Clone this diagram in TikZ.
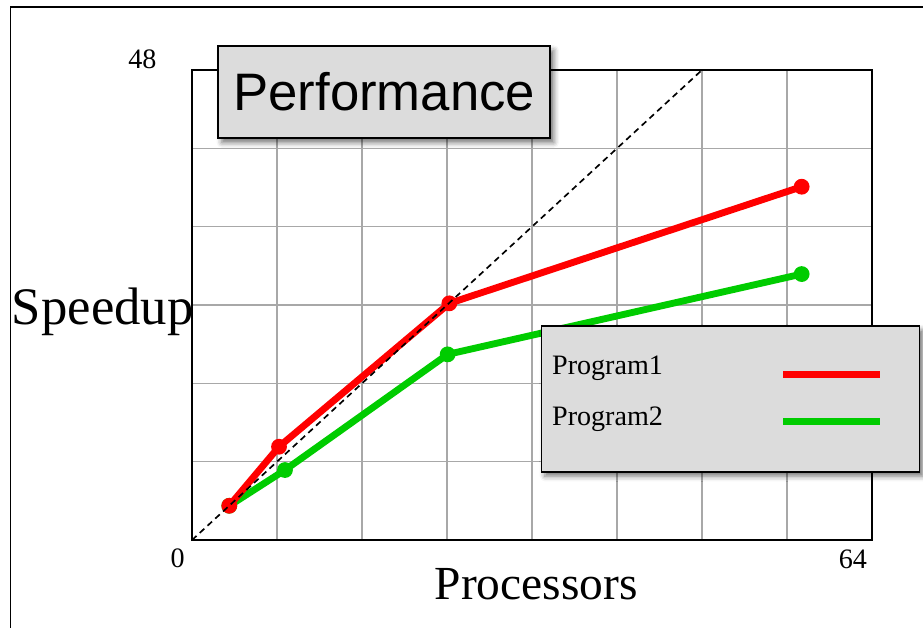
\documentclass[tikz,border=0pt]{standalone}
\usepackage{fontspec}
\setmainfont{Liberation Serif}
\newfontfamily\titlefont{Liberation Sans}
\usetikzlibrary{shadows.blur}
\definecolor{myred}{RGB}{255,0,0}
\definecolor{mygreen}{RGB}{0,204,0}
\definecolor{myboxgray}{RGB}{220,220,220}
\definecolor{mygridgray}{RGB}{168,168,168}

\begin{document}
\begin{tikzpicture}[
  x=0.2125cm, y=0.19584cm,
  gridline/.style={draw=mygridgray, line width=0.6pt},
  shadowbox/.style={
    draw,
    line width=1pt,
    fill=myboxgray,
    blur shadow={shadow xshift=2pt, shadow yshift=-2.5pt,
      shadow blur radius=3pt, shadow opacity=55}
    },
  series/.style={line width=3.9pt, line join=round},
  keyline/.style={line width=3.8pt},
  ptdot/.style={circle, fill=#1, inner sep=0pt, minimum size=9pt},
  ticklabel/.style={anchor=base, font=\fontsize{16}{19}\selectfont},
  keylabel/.style={anchor=base west, inner sep=0pt, font=\fontsize{16}{19}\selectfont}
]
\clip (-18.071,-8.885) rectangle (68.8,55.147);

% outer frame, runs off the page on the right and bottom
\draw[line width=1.1pt] (-17.08,54.43) rectangle (72,-12);

% plot area
\draw[gridline] (0,0) grid[xstep=8, ystep=8] (64,48);
\draw[line width=1.2pt] (0,0) rectangle (64,48);

\node[ticklabel] (y48) at (-4.66,48.2) {48};
\node[ticklabel] (x0) at (-1.36,-2.83) {0};
\node[ticklabel] (x64) at (62.2,-2.86) {64};

\node[anchor=base, font=\fontsize{30}{35}\selectfont] (ylab) at (-8.4,21.96) {Speedup};
\node[anchor=base, font=\fontsize{27}{32}\selectfont] (xlab) at (32.4,-6.03) {Processors};

% Program2
\node[ptdot=mygreen] (g1) at (3.51,3.50) {};
\node[ptdot=mygreen] (g2) at (8.75,7.15) {};
\node[ptdot=mygreen] (g3) at (24.06,18.96) {};
\node[ptdot=mygreen] (g4) at (57.38,27.16) {};
\draw[series, mygreen] (g1.center) -- (g2.center) -- (g3.center) -- (g4.center);

% Program1
\node[ptdot=myred] (r1) at (3.51,3.50) {};
\node[ptdot=myred] (r2) at (8.19,9.53) {};
\node[ptdot=myred] (r3) at (24.22,24.17) {};
\node[ptdot=myred] (r4) at (57.38,36.08) {};
\draw[series, myred] (r1.center) -- (r2.center) -- (r3.center) -- (r4.center);

% linear speedup
\coordinate (o) at (0,0);
\coordinate (ideal) at (48,48);
\draw[line width=0.95pt, dash pattern=on 3.5pt off 2.5pt] (o) -- (ideal);

% title
\node[shadowbox, minimum width=6.64cm, minimum height=1.84cm,
  font=\titlefont\fontsize{30}{36}\selectfont] (title) at (18.1,45.74) {Performance};

% key
\node[shadowbox, minimum width=7.56cm, minimum height=2.92cm] (key) at (50.68,14.43) {};
\node[keylabel] (k1) at (33.86,16.95) {Program1};
\node[keylabel] (k2) at (33.86,11.74) {Program2};
\coordinate (k1a) at (55.65,16.88);
\coordinate (k1b) at (64.75,16.88);
\coordinate (k2a) at (55.65,12.12);
\coordinate (k2b) at (64.75,12.12);
\draw[keyline, myred] (k1a) -- (k1b);
\draw[keyline, mygreen] (k2a) -- (k2b);

\end{tikzpicture}
\end{document}
